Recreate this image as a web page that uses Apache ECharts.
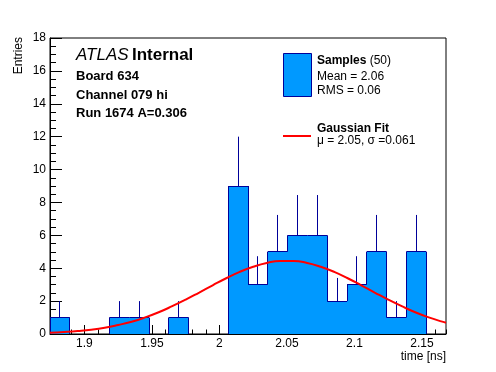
<!DOCTYPE html>
<html>
<head>
<meta charset="utf-8">
<script src="https://cdn.jsdelivr.net/npm/echarts@6/dist/echarts.min.js"></script>
<style>
html,body{margin:0;padding:0;background:#fff;}
#c{width:496px;height:372px;}
</style>
</head>
<body>
<div id="c"></div>
<script>
// ---- data ----
const xMin = 1.8745;
const xMax = 2.1678;
const nBins = 20;
const counts = [1, 0, 0, 1, 1, 0, 1, 0, 0, 9, 3, 5, 6, 6, 2, 3, 5, 1, 5, 0];
const errors = [1, 0, 0, 1, 1, 0, 1, 0, 0, 3, 1.73, 2.24, 2.45, 2.45, 1.41, 1.73, 2.24, 1, 2.24, 0];
const fitX = [1.8745, 1.885, 1.895, 1.905, 1.915, 1.925, 1.935, 1.945, 1.955, 1.965, 1.975, 1.985, 1.995, 2.005, 2.015, 2.025, 2.035, 2.045, 2.055, 2.065, 2.075, 2.085, 2.095, 2.105, 2.115, 2.125, 2.135, 2.145, 2.155, 2.165, 2.1678];
const fitY = [0.07, 0.12, 0.18, 0.26, 0.38, 0.55, 0.75, 1.01, 1.32, 1.69, 2.09, 2.52, 2.96, 3.39, 3.78, 4.09, 4.32, 4.44, 4.44, 4.32, 4.09, 3.78, 3.39, 2.96, 2.52, 2.09, 1.69, 1.32, 1.01, 0.75, 0.69];
const yTicks = {min: 0, max: 18, step: 2, minorStep: 0.5};
const legendSamples = {title: 'Samples', n: '(50)', mean: 'Mean = 2.06', rms: 'RMS = 0.06'};
const legendFit = {title: 'Gaussian Fit', text: 'μ = 2.05, σ =0.061'};
const infoLines = ['Board 634', 'Channel 079 hi', 'Run 1674 A=0.306'];

// ---- build ----
const FONT = 'Liberation Sans, Arial, Helvetica, sans-serif';
const FILL = '#0099ff';
const EDGE = '#000099';
const binW = (xMax - xMin) / nBins;
const histData = counts.map((c, i) => [
  xMin + i * binW, xMin + (i + 1) * binW, c, errors[i],
  i > 0 ? counts[i - 1] : 0, i === nBins - 1 ? 1 : 0
]);

function cr(v) { return Math.round(v - 0.5) + 0.5; }

const chart = echarts.init(document.getElementById('c'), null, {renderer: 'canvas'});
chart.setOption({
  backgroundColor: '#fff',
  animation: false,
  grid: {left: 50, top: 38, right: 50, bottom: 38, show: true, borderColor: '#000', borderWidth: 1, backgroundColor: 'transparent'},
  xAxis: [{
    type: 'value', min: xMin, max: xMax, splitNumber: 6, position: 'bottom',
    axisLine: {show: true, onZero: false, lineStyle: {color: '#000', width: 1}},
    axisTick: {show: true, inside: true, length: 9, lineStyle: {color: '#000'}},
    axisLabel: {show: true, showMinLabel: false, showMaxLabel: false, margin: 4, color: '#000', fontSize: 12, fontFamily: FONT},
    splitLine: {show: false}
  }, {
    type: 'value', min: xMin, max: xMax, splitNumber: 30, position: 'bottom', offset: 0,
    axisLine: {show: false},
    axisTick: {show: true, inside: true, length: 4.5, lineStyle: {color: '#000'}},
    axisLabel: {show: false},
    splitLine: {show: false}
  }],
  yAxis: [{
    type: 'value', min: yTicks.min, max: yTicks.max, interval: yTicks.minorStep, position: 'left',
    axisLine: {show: true, onZero: false, lineStyle: {color: '#000', width: 1}},
    axisTick: {show: true, inside: true, length: 6, lineStyle: {color: '#000', width: 1}},
    axisLabel: {
      show: true, margin: 4, color: '#000', fontSize: 12, fontFamily: FONT,
      formatter: function (v) { const k = v / yTicks.step; return Math.abs(k - Math.round(k)) < 1e-6 ? String(Math.round(v)) : ''; }
    },
    splitLine: {show: false}
  }, {
    type: 'value', min: yTicks.min, max: yTicks.max, interval: yTicks.step, position: 'left', offset: 0,
    axisLine: {show: false},
    axisTick: {show: true, inside: true, length: 12, lineStyle: {color: '#000', width: 1}},
    axisLabel: {show: false},
    splitLine: {show: false}
  }],
  series: [{
    type: 'custom',
    xAxisIndex: 0, yAxisIndex: 0,
    z: 2,
    clip: true,
    data: histData,
    encode: {x: [0, 1], y: 2},
    renderItem: function (params, api) {
      const x0 = api.value(0), x1 = api.value(1), c = api.value(2), e = api.value(3), prev = api.value(4), last = api.value(5);
      const ch = [];
      const mid = (x0 + x1) / 2;
      if (c > 0) {
        const pt = api.coord([mid, c + e]), pb = api.coord([mid, Math.max(0, c - e)]);
        ch.push({type: 'line', shape: {x1: cr(pt[0]), y1: pt[1], x2: cr(pb[0]), y2: pb[1]}, style: {stroke: EDGE, lineWidth: 1}});
        const a = api.coord([x0, c]), b = api.coord([x1, 0]);
        const rx = Math.round(a[0]), rw = Math.round(b[0]) - rx;
        const ry = Math.round(a[1]), rh = Math.round(b[1]) - ry;
        ch.push({type: 'rect', shape: {x: rx, y: ry, width: rw, height: rh}, style: {fill: FILL}});
        ch.push({type: 'line', shape: {x1: a[0], y1: cr(a[1]), x2: b[0], y2: cr(a[1])}, style: {stroke: EDGE, lineWidth: 1}});
      }
      if (prev !== c) {
        const p = api.coord([x0, prev]), q = api.coord([x0, c]);
        ch.push({type: 'line', shape: {x1: cr(p[0]), y1: p[1], x2: cr(q[0]), y2: q[1]}, style: {stroke: EDGE, lineWidth: 1}});
      }
      if (last && c > 0) {
        const p = api.coord([x1, c]), q = api.coord([x1, 0]);
        ch.push({type: 'line', shape: {x1: cr(p[0]), y1: p[1], x2: cr(q[0]), y2: q[1]}, style: {stroke: EDGE, lineWidth: 1}});
      }
      return {type: 'group', children: ch};
    }
  }, {
    type: 'line',
    xAxisIndex: 0, yAxisIndex: 0,
    z: 3,
    data: fitX.map((x, i) => [x, fitY[i]]),
    smooth: true,
    showSymbol: false,
    symbol: 'none',
    lineStyle: {color: '#ff0000', width: 2},
    clip: true
  }],
  graphic: [
    {type: 'text', left: 76, top: 47, style: {text: '{i|ATLAS} {b|Internal}', rich: {i: {fontStyle: 'italic', fontSize: 17, fontFamily: FONT, fill: '#000'}, b: {fontWeight: 'bold', fontSize: 17, fontFamily: FONT, fill: '#000'}}, fill: '#000'}},
    {type: 'text', x: 76, y: 76, style: {text: infoLines[0], fontWeight: 'bold', fontSize: 13, fontFamily: FONT, fill: '#000', verticalAlign: 'middle'}},
    {type: 'text', x: 76, y: 95.5, style: {text: infoLines[1], fontWeight: 'bold', fontSize: 13, fontFamily: FONT, fill: '#000', verticalAlign: 'middle'}},
    {type: 'text', x: 76, y: 113.5, style: {text: infoLines[2], fontWeight: 'bold', fontSize: 13, fontFamily: FONT, fill: '#000', verticalAlign: 'middle'}},
    {type: 'rect', shape: {x: 283.5, y: 53.5, width: 28, height: 43}, style: {fill: FILL, stroke: EDGE, lineWidth: 1}},
    {type: 'text', x: 317, y: 61, style: {text: '{b|' + legendSamples.title + '} ' + legendSamples.n, rich: {b: {fontWeight: 'bold', fontSize: 12, fontFamily: FONT, fill: '#000'}}, fontSize: 12, fontFamily: FONT, fill: '#000', verticalAlign: 'middle'}},
    {type: 'text', x: 317, y: 76.5, style: {text: legendSamples.mean, fontSize: 12, fontFamily: FONT, fill: '#000', verticalAlign: 'middle'}},
    {type: 'text', x: 317, y: 90.5, style: {text: legendSamples.rms, fontSize: 12, fontFamily: FONT, fill: '#000', verticalAlign: 'middle'}},
    {type: 'line', shape: {x1: 283, y1: 136, x2: 311, y2: 136}, style: {stroke: '#ff0000', lineWidth: 2}},
    {type: 'text', x: 317, y: 129, style: {text: legendFit.title, fontWeight: 'bold', fontSize: 12, fontFamily: FONT, fill: '#000', verticalAlign: 'middle'}},
    {type: 'text', x: 317, y: 141, style: {text: legendFit.text, fontSize: 12, fontFamily: FONT, fill: '#000', verticalAlign: 'middle'}},
    {type: 'text', x: 446, y: 357, style: {text: 'time [ns]', fontSize: 12, fontFamily: FONT, fill: '#000', align: 'right', verticalAlign: 'middle'}},
    {type: 'text', x: 19, y: 37, rotation: Math.PI / 2, style: {text: 'Entries', fontSize: 12, fontFamily: FONT, fill: '#000', align: 'right', verticalAlign: 'middle'}}
  ]
});
</script>
</body>
</html>
